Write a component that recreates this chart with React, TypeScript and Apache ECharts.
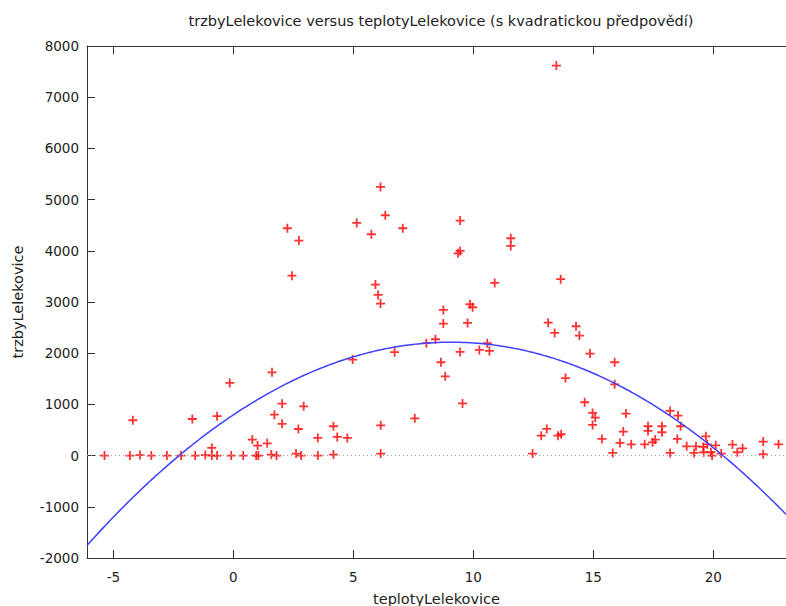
import React, { useEffect, useRef } from "react";
import * as echarts from "echarts";

// Temperatures (x) and sales (y)
const temperatures: number[] = [
  -5.37, -4.31, -4.19, -3.89, -3.42, -2.77, -2.18, -1.71, -1.59, -1.17,
  -0.9, -0.9, -0.68, -0.68, -0.15, -0.09, 0.41, 0.79, 1.01, 0.95,
  1.04, 1.41, 1.58, 1.8, 1.61, 1.71, 2.03, 2.03, 2.61, 2.71,
  2.82, 2.93, 3.52, 3.52, 4.17, 4.17, 4.33, 4.75, 2.25, 2.44,
  2.73,
  4.97, 5.14, 5.75, 5.92, 6.03, 6.13, 6.13, 6.33, 6.14, 6.14,
  6.72, 7.06, 7.56, 8.04, 8.42, 8.65, 8.75, 8.75, 8.83, 9.36,
  9.45, 9.45, 9.45, 9.55, 9.76, 9.86, 9.97, 10.25, 10.58, 10.67,
  10.89, 11.56, 11.56,
  12.47, 12.83, 13.06, 13.12, 13.39, 13.46, 13.53, 13.66, 13.64, 13.84,
  14.28, 14.42, 14.64, 14.86, 14.97, 15.08, 14.97, 15.36, 15.81, 15.89,
  15.89, 16.11, 16.25, 16.36, 16.58, 17.14, 17.28, 17.28, 17.47, 17.58,
  17.86, 17.86, 18.2, 18.2, 18.53, 18.64, 18.5, 18.89, 19.28, 19.2,
  19.58, 19.69, 19.75, 19.6, 19.9, 19.95, 20.1, 20.33, 20.8, 21.0,
  21.22, 22.08, 22.08, 22.72,
];

const sales: number[] = [
  0, 0, 690, 10, 0, 0, 0, 715, 0, 10,
  150, 0, 0, 770, 1420, 0, 0, 313, 195, 0,
  0, 240, 20, 0, 1627, 800, 1015, 620, 40, 520,
  0, 963, 345, 0, 573, 20, 365, 345, 4440, 3515,
  4200,
  1875, 4544, 4323, 3340, 3138, 2969, 5247, 4694, 592, 40,
  2020, 4440, 728, 2195, 2272, 1823, 2845, 2578, 1549, 3951,
  3997, 4590, 2025, 1020, 2591, 2956, 2897, 2064, 2195, 2045,
  3372, 4245, 4095,
  40, 390, 521, 2597, 2396, 7617, 390, 417, 3445, 1515,
  2526, 2344, 1042, 1992, 833, 742, 599, 326, 52, 1823,
  1393, 247, 469, 820, 221, 221, 573, 482, 260, 313,
  573, 456, 872, 52, 781, 573, 326, 182, 182, 52,
  170, 377, 221, 65, 65, 0, 200, 40, 215, 65,
  143, 273, 26, 221,
];

// Quadratic prediction coefficients: y = c0 + c1*x + c2*x^2
const quadCoefficients: number[] = [796, 312.9, -17.25];

const xTickValues: number[] = [-5, 0, 5, 10, 15, 20];

const titleText = "trzbyLelekovice versus teplotyLelekovice (s kvadratickou předpovědí)";
const xName = "teplotyLelekovice";
const yName = "trzbyLelekovice";

const X_MIN = -6.1;
const X_MAX = 23.03;

const FONT = "DejaVu Sans";
const PLUS =
  "path://M4,0 L6,0 L6,4 L10,4 L10,6 L6,6 L6,10 L4,10 L4,6 L0,6 L0,4 L4,4 Z";

export default function App() {
  const ref = useRef<HTMLDivElement>(null);

  useEffect(() => {
    if (!ref.current) return;
    const chart = echarts.init(ref.current, undefined, { renderer: "svg" });

    const points = temperatures.map((t, i) => [t, sales[i]]);
    const curve: number[][] = [];
    const steps = 300;
    for (let i = 0; i <= steps; i++) {
      const x = X_MIN + ((X_MAX - X_MIN) * i) / steps;
      const y =
        quadCoefficients[0] + quadCoefficients[1] * x + quadCoefficients[2] * x * x;
      curve.push([x, y]);
    }

    const axisColor = "#333333";
    const labelStyle = { fontFamily: FONT, fontSize: 13.5, color: "#222222" };
    const nameStyle = { fontFamily: FONT, fontSize: 14.5, color: "#222222" };

    chart.setOption({
      animation: false,
      backgroundColor: "#ffffff",
      graphic: [
        {
          type: "text",
          x: 441,
          y: 21,
          style: {
            text: titleText,
            fontFamily: FONT,
            fontSize: 14.5,
            fill: "#222222",
            textAlign: "center",
            textVerticalAlign: "middle",
          },
        },
      ],
      grid: {
        left: 87,
        top: 46,
        right: 0,
        bottom: 48,
        containLabel: false,
        outerBoundsMode: "none",
      },
      xAxis: [
        {
          type: "value",
          min: X_MIN,
          max: X_MAX,
          position: "bottom",
          name: xName,
          nameLocation: "middle",
          nameGap: 33,
          nameTextStyle: { ...nameStyle },
          axisLine: { show: true, onZero: false, lineStyle: { color: axisColor, width: 1 } },
          axisTick: {
            show: true,
            inside: true,
            length: 8,
            customValues: xTickValues,
            lineStyle: { color: axisColor },
          },
          axisLabel: {
            customValues: xTickValues,
            margin: 12,
            ...labelStyle,
            formatter: (v: number) => String(v),
          },
          splitLine: { show: false },
        },
        {
          type: "value",
          min: X_MIN,
          max: X_MAX,
          position: "top",
          axisLine: { show: true, onZero: false, lineStyle: { color: axisColor, width: 1 } },
          axisTick: {
            show: true,
            inside: true,
            length: 8,
            customValues: xTickValues,
            lineStyle: { color: axisColor },
          },
          axisLabel: { show: false },
          splitLine: { show: false },
        },
      ],
      yAxis: {
        type: "value",
        min: -2000,
        max: 8000,
        interval: 1000,
        name: yName,
        nameLocation: "middle",
        nameGap: 62,
        nameRotate: 90,
        nameTextStyle: { ...nameStyle },
        axisLine: { show: true, onZero: false, lineStyle: { color: axisColor, width: 1 } },
        axisTick: { show: true, inside: true, length: 8, lineStyle: { color: axisColor } },
        axisLabel: { margin: 8, ...labelStyle, formatter: (v: number) => String(v) },
        splitLine: { show: false },
      },
      series: [
        {
          type: "scatter",
          data: points,
          symbol: PLUS,
          symbolSize: 9,
          itemStyle: { color: "#ff0000" },
          z: 2,
          markLine: {
            silent: true,
            symbol: ["none", "none"],
            label: { show: false },
            lineStyle: { color: "#a0a0a0", type: [1, 3], width: 1 },
            data: [{ yAxis: 0 }],
          },
        },
        {
          type: "line",
          data: curve,
          showSymbol: false,
          symbol: "none",
          smooth: false,
          lineStyle: { color: "#4040ff", width: 1.5 },
          z: 3,
        },
      ],
    });

    return () => chart.dispose();
  }, []);

  return (
    <div
      ref={ref}
      style={{ position: "fixed", left: 0, top: 0, width: 786, height: 606 }}
    />
  );
}
